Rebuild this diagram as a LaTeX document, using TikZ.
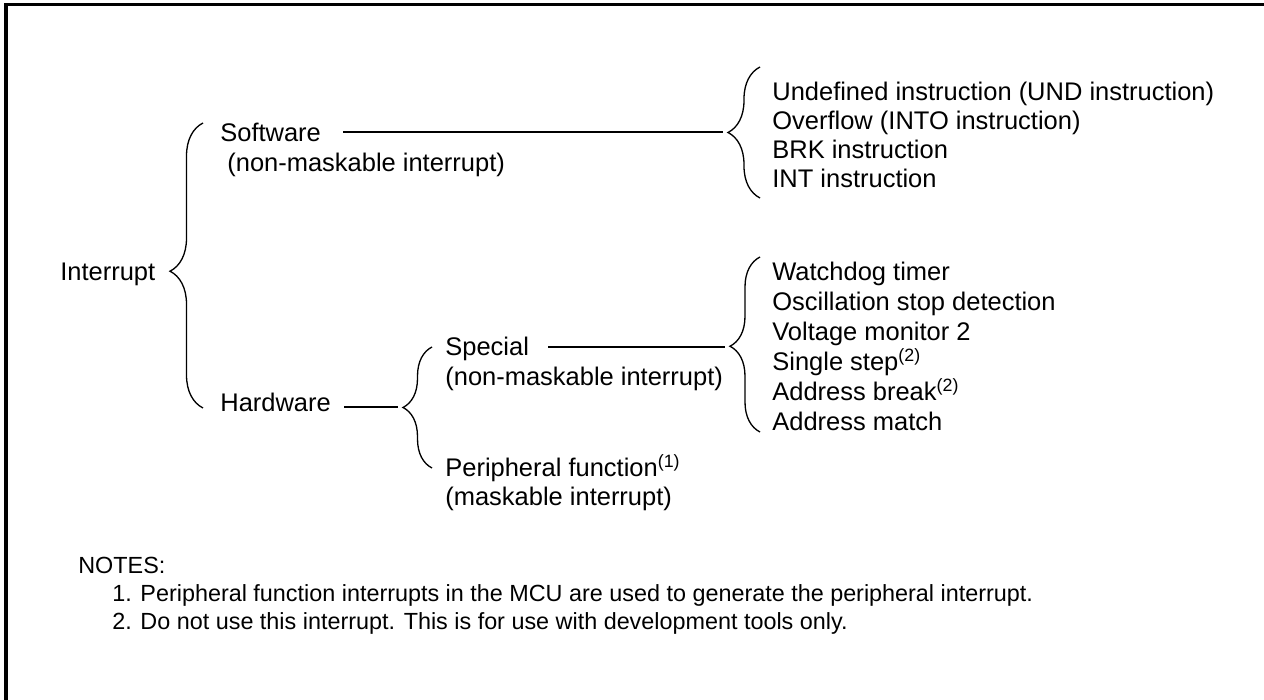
\documentclass[tikz,border=0pt]{standalone}
\usepackage{fontspec}
\setmainfont{Liberation Sans}
\usetikzlibrary{decorations.pathreplacing}
\tikzset{
	txt/.style={anchor=base west, inner sep=0pt, font=\fontsize{14.5}{17}\selectfont},
	note/.style={anchor=base west, inner sep=0pt, font=\fontsize{13.3}{16}\selectfont},
	curly/.style={decorate, line width=0.75pt, decoration={brace, amplitude=#1}},
	link/.style={line width=0.75pt, shorten >=1mm}
}
\begin{document}
\begin{tikzpicture} [x=0.2mm, y=-0.2mm]
	\useasboundingbox (0,0) rectangle (1264,700);
	\draw [line width=0.6mm] (1264,5) -- (6,5) -- (6,700);
	% tree labels
	\node [txt] (intr) at (60,281) {Interrupt};
	\node [txt] (sw) at (220,142) {Software};
	\node [txt] (swsub) at (227,172) {(non-maskable interrupt)};
	\node [txt] (hw) at (220,412) {Hardware};
	\node [txt] (sp) at (445,356) {Special};
	\node [txt] (spsub) at (445,386) {(non-maskable interrupt)};
	\node [txt] (pf) at (445,477) {Peripheral function\textsuperscript{(1)}};
	\node [txt] (pfsub) at (445,506) {(maskable interrupt)};
	% brace tips
	\coordinate (swtip) at (728,132);
	\coordinate (hwtip) at (403,407);
	\coordinate (sptip) at (730,347);
	% braces
	\draw [curly=6.6mm, decoration={aspect=0.48}] (203,408) -- (203,123);
	\draw [curly=6.4mm] (760,198) -- (760,67);
	\draw [curly=5.8mm] (432,468) -- (432,347);
	\draw [curly=6mm, decoration={aspect=0.49}] (760,432) -- (760,257);
	% lines to the braces
	\draw [link] (sw.east |- swtip) ++(22,0) -- (swtip);
	\draw [link] (hw.east |- hwtip) ++(13,0) -- (hwtip);
	\draw [link] (sp.east |- sptip) ++(19,0) -- (sptip);
	% software sources
	\foreach \t [count=\i] in {Undefined instruction (UND instruction), Overflow (INTO instruction), BRK instruction, INT instruction}
		\node [txt] (sw\i) at (772,{101+29*(\i-1)}) {\t};
	% special sources
	\foreach \t [count=\i] in {Watchdog timer, Oscillation stop detection, Voltage monitor 2, Single step\textsuperscript{(2)}, Address break\textsuperscript{(2)}, Address match}
		\node [txt] (sp\i) at (772,{281+30*(\i-1)}) {\t};
	% notes
	\node [note] (notes) at (78,574) {NOTES:};
	\node [note] (note1) at (112,602) {1. Peripheral function interrupts in the MCU are used to generate the peripheral interrupt.};
	\node [note] (note2) at (112,630) {2. Do not use this interrupt. This is for use with development tools only.};
\end{tikzpicture}
\end{document}
